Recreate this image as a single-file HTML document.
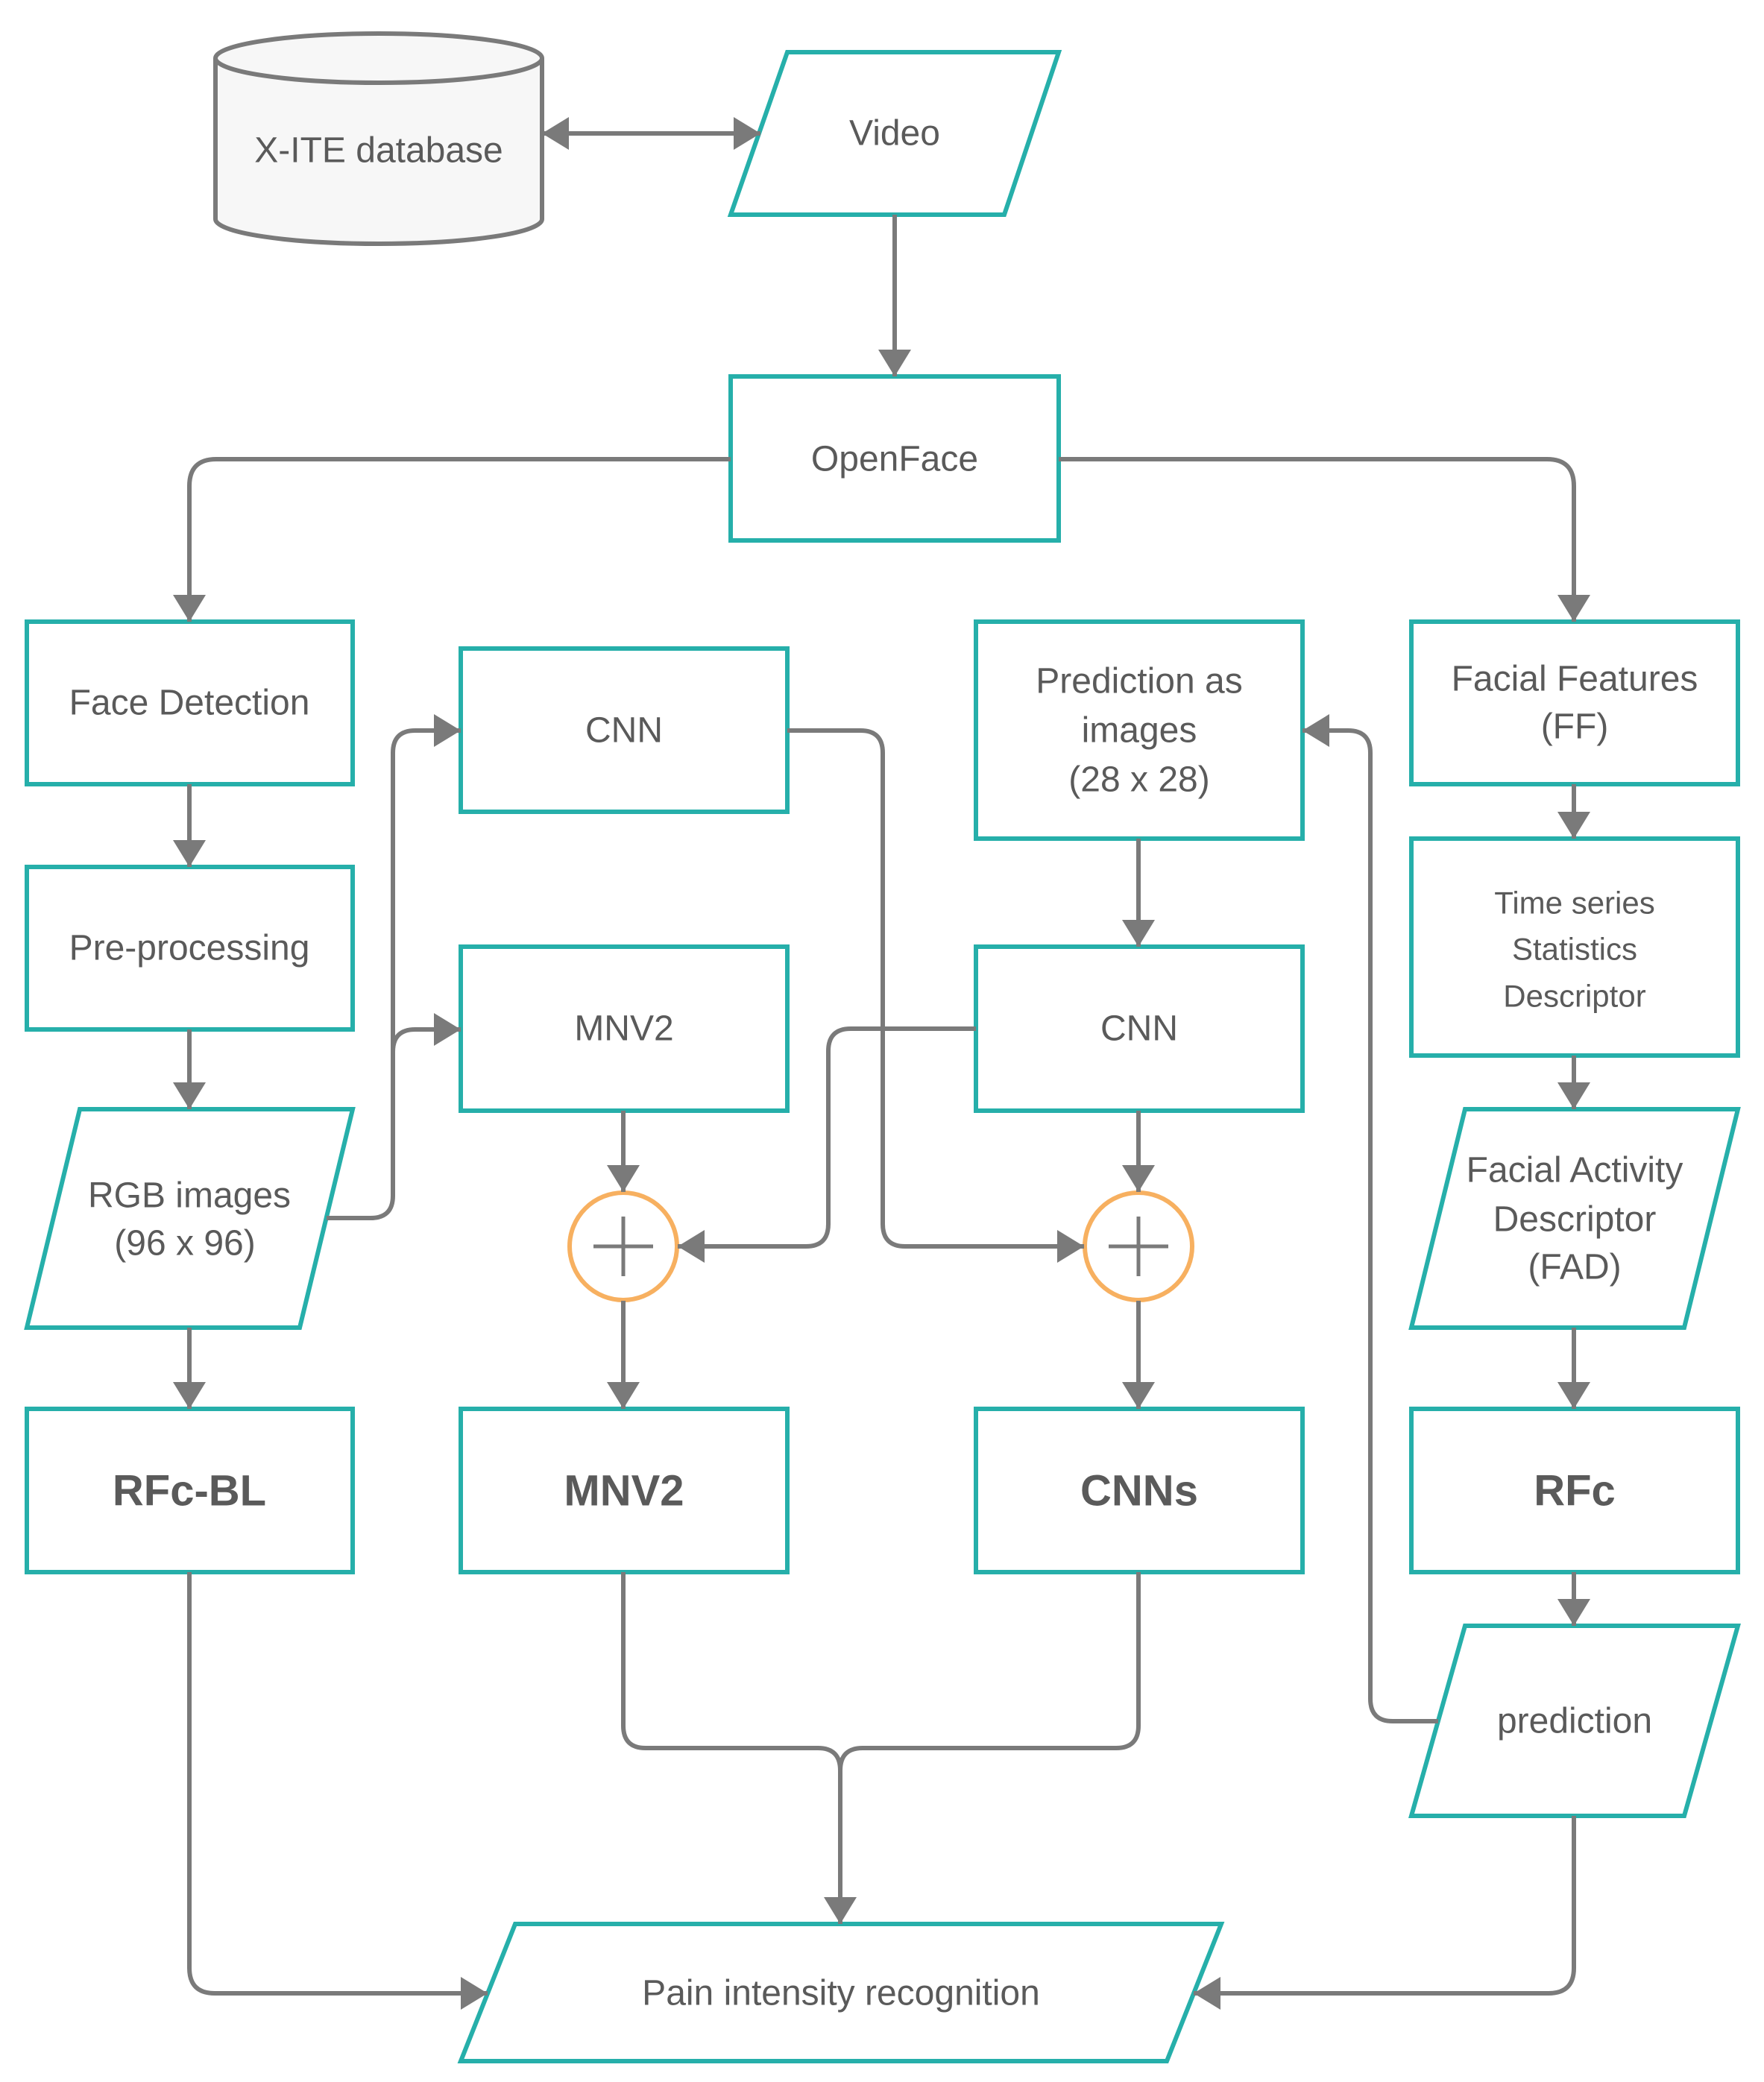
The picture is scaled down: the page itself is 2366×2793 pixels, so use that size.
<!DOCTYPE html>
<html><head><meta charset="utf-8"><style>
html,body{margin:0;padding:0;background:#fff}
svg{display:block}
text{font-family:"Liberation Sans",sans-serif;fill:#5a5a5a;text-anchor:middle;dominant-baseline:central}
.b{fill:#fff;stroke:#26afaa;stroke-width:6}
.l{fill:none;stroke:#7a7a7a;stroke-width:6}
.t{font-size:48px}
.s{font-size:42px}
.bd{font-size:58px;font-weight:bold}
</style></head><body>
<svg width="2366" height="2793" viewBox="0 0 2366 2793" xmlns="http://www.w3.org/2000/svg">
<defs>
<marker id="a" markerUnits="userSpaceOnUse" markerWidth="40" markerHeight="44" refX="36" refY="22" orient="auto-start-reverse"><path d="M0,0 L36,22 L0,44 z" fill="#7a7a7a"/></marker>
</defs>
<!-- cylinder -->
<path d="M289,78 V294 A219,33 0 0 0 727,294 V78" fill="#f7f7f7" stroke="#7a7a7a" stroke-width="6"/>
<ellipse cx="508" cy="78" rx="219" ry="33" fill="#f7f7f7" stroke="#7a7a7a" stroke-width="6"/>
<text x="508" y="202" class="t">X-ITE database</text>
<!-- video -->
<polygon class="b" points="1056,70 1420,70 1347,288 980,288"/>
<text x="1200" y="179" class="t">Video</text>
<rect class="b" x="980" y="505" width="440" height="220"/>
<text x="1200" y="616" class="t">OpenFace</text>
<!-- row1 -->
<rect class="b" x="36" y="834" width="437" height="218"/><text x="254" y="943" class="t">Face Detection</text>
<rect class="b" x="618" y="870" width="438" height="219"/><text x="837" y="980" class="t">CNN</text>
<rect class="b" x="1309" y="834" width="438" height="291"/>
<text x="1528" y="914" class="t">Prediction as</text><text x="1528" y="980" class="t">images</text><text x="1528" y="1046" class="t">(28 x 28)</text>
<rect class="b" x="1893" y="834" width="438" height="218"/>
<text x="2112" y="911" class="t">Facial Features</text><text x="2112" y="975" class="t">(FF)</text>
<!-- row2 -->
<rect class="b" x="36" y="1163" width="437" height="218"/><text x="254" y="1272" class="t">Pre-processing</text>
<rect class="b" x="618" y="1270" width="438" height="220"/><text x="837" y="1380" class="t">MNV2</text>
<rect class="b" x="1309" y="1270" width="438" height="220"/><text x="1528" y="1380" class="t">CNN</text>
<rect class="b" x="1893" y="1125" width="438" height="291"/>
<text x="2112" y="1211" class="s">Time series</text><text x="2112" y="1273" class="s">Statistics</text><text x="2112" y="1336" class="s">Descriptor</text>
<!-- row3 -->
<polygon class="b" points="107,1488 473,1488 402,1781 36,1781"/>
<text x="254" y="1604" class="t">RGB images</text><text x="248" y="1668" class="t">(96 x 96)</text>
<circle cx="836" cy="1672" r="72" fill="#fff" stroke="#f7b060" stroke-width="6"/>
<path d="M796,1672 H876 M836,1632 V1712" stroke="#7a7a7a" stroke-width="5"/>
<circle cx="1527" cy="1672" r="72" fill="#fff" stroke="#f7b060" stroke-width="6"/>
<path d="M1487,1672 H1567 M1527,1632 V1712" stroke="#7a7a7a" stroke-width="5"/>
<polygon class="b" points="1965,1488 2331,1488 2259,1781 1893,1781"/>
<text x="2112" y="1570" class="t">Facial Activity</text><text x="2112" y="1636" class="t">Descriptor</text><text x="2112" y="1700" class="t">(FAD)</text>
<!-- row4 -->
<rect class="b" x="36" y="1890" width="437" height="219"/><text x="254" y="2000" class="bd">RFc-BL</text>
<rect class="b" x="618" y="1890" width="438" height="219"/><text x="837" y="2000" class="bd">MNV2</text>
<rect class="b" x="1309" y="1890" width="438" height="219"/><text x="1528" y="2000" class="bd">CNNs</text>
<rect class="b" x="1893" y="1890" width="438" height="219"/><text x="2112" y="2000" class="bd">RFc</text>
<polygon class="b" points="1965,2181 2331,2181 2259,2436 1893,2436"/>
<text x="2112" y="2309" class="t">prediction</text>
<polygon class="b" points="691,2581 1638,2581 1565,2765 618,2765"/>
<text x="1128" y="2674" class="t">Pain intensity recognition</text>
<!-- connectors -->
<g class="l">
<path d="M727,179 H1020" marker-start="url(#a)" marker-end="url(#a)"/>
<path d="M1200,288 V505" marker-end="url(#a)"/>
<path d="M980,616 H290 Q254,616 254,652 V834" marker-end="url(#a)"/>
<path d="M1420,616 H2075 Q2111,616 2111,652 V834" marker-end="url(#a)"/>
<path d="M254,1052 V1163" marker-end="url(#a)"/>
<path d="M254,1381 V1488" marker-end="url(#a)"/>
<path d="M254,1781 V1890" marker-end="url(#a)"/>
<path d="M254,2109 V2640 Q254,2674 288,2674 H654" marker-end="url(#a)"/>
<path d="M438,1634 H497 Q527,1634 527,1604 V1010 Q527,980 557,980 H618" marker-end="url(#a)"/>
<path d="M527,1411 Q527,1381 557,1381 H618" marker-end="url(#a)"/>
<path d="M1056,980 H1154 Q1184,980 1184,1010 V1642 Q1184,1672 1214,1672 H1454" marker-end="url(#a)"/>
<path d="M1309,1380 H1141 Q1111,1380 1111,1410 V1642 Q1111,1672 1081,1672 H909" marker-end="url(#a)"/>
<path d="M836,1490 V1599" marker-end="url(#a)"/>
<path d="M836,1745 V1890" marker-end="url(#a)"/>
<path d="M1527,1125 V1270" marker-end="url(#a)"/>
<path d="M1527,1490 V1599" marker-end="url(#a)"/>
<path d="M1527,1745 V1890" marker-end="url(#a)"/>
<path d="M836,2109 V2315 Q836,2345 866,2345 H1097 Q1127,2345 1127,2375 V2581" marker-end="url(#a)"/>
<path d="M1527,2109 V2315 Q1527,2345 1497,2345 H1157 Q1127,2345 1127,2375"/>
<path d="M2111,1052 V1125" marker-end="url(#a)"/>
<path d="M2111,1416 V1488" marker-end="url(#a)"/>
<path d="M2111,1781 V1890" marker-end="url(#a)"/>
<path d="M2111,2109 V2181" marker-end="url(#a)"/>
<path d="M1929,2309 H1868 Q1838,2309 1838,2279 V1010 Q1838,980 1808,980 H1747" marker-end="url(#a)"/>
<path d="M2111,2436 V2640 Q2111,2674 2077,2674 H1601" marker-end="url(#a)"/>
</g>
</svg>
</body></html>
